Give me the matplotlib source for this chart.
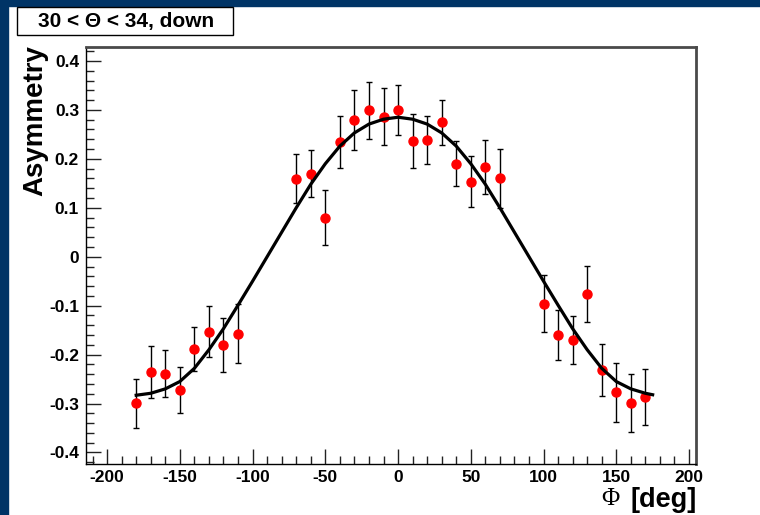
import matplotlib.pyplot as plt
from matplotlib.patches import Rectangle
from matplotlib.ticker import MultipleLocator, FuncFormatter

# === DATA ===

phi = [-180, -170, -160, -150, -140, -130, -120, -110,
       -70, -60, -50, -40, -30, -20, -10, 0, 10, 20, 30, 40, 50, 60, 70,
       100, 110, 120, 130, 140, 150, 160, 170]
asym = [-0.299, -0.236, -0.239, -0.272, -0.189, -0.153, -0.181, -0.157,
        0.159, 0.170, 0.080, 0.234, 0.279, 0.299, 0.286, 0.299, 0.236, 0.239,
        0.275, 0.190, 0.153, 0.184, 0.160,
        -0.096, -0.160, -0.170, -0.076, -0.231, -0.277, -0.299, -0.287]
asym_err = [0.050, 0.053, 0.048, 0.047, 0.045, 0.052, 0.055, 0.061,
            0.050, 0.048, 0.057, 0.053, 0.061, 0.059, 0.058, 0.051, 0.055, 0.049,
            0.046, 0.046, 0.052, 0.055, 0.060,
            0.058, 0.051, 0.049, 0.058, 0.053, 0.060, 0.059, 0.057]

# fit curve
fit_phi = [-180, -170, -160, -150, -140, -130, -120, -110, -100, -90, -80,
           -70, -60, -50, -40, -30, -20, -10, 0, 10, 20, 30, 40, 50, 60, 70,
           80, 90, 100, 110, 120, 130, 140, 150, 160, 170, 175]
fit_asym = [-0.283, -0.279, -0.270, -0.255, -0.228, -0.190, -0.147, -0.099, -0.050,
            0.000, 0.050, 0.100, 0.148, 0.190, 0.226, 0.253, 0.271, 0.281, 0.285,
            0.281, 0.271, 0.253, 0.226, 0.190, 0.148, 0.100, 0.050, 0.000,
            -0.050, -0.099, -0.147, -0.190, -0.228, -0.255, -0.270, -0.279, -0.282]

# === STYLE ===

plt.rcParams['font.family'] = ['Liberation Sans', 'DejaVu Sans']
plt.rcParams['axes.unicode_minus'] = False

fig = plt.figure(figsize=(7.6, 5.15), dpi=100)
W, H = 760, 515

# dark blue border strips
fig.patches.append(Rectangle((0, 0), 8 / W, 1, transform=fig.transFigure,
                             color='#003466', zorder=0))
fig.patches.append(Rectangle((0, 1 - 6 / H), 1, 6 / H, transform=fig.transFigure,
                             color='#003466', zorder=0))

ax = fig.add_axes([86 / W, (H - 464) / H, 610 / W, 417 / H])

ax.errorbar(phi, asym, yerr=asym_err, fmt='o', color='red', markersize=6.5,
            ecolor='black', elinewidth=1, capsize=2.5, capthick=1, zorder=3)
ax.plot(fit_phi, fit_asym, color='black', linewidth=2.3, zorder=4)

ax.set_xlim(-214.5, 204.8)
ax.set_ylim(-0.4235, 0.4285)

ax.xaxis.set_major_locator(MultipleLocator(50))
ax.xaxis.set_minor_locator(MultipleLocator(10))
ax.yaxis.set_major_locator(MultipleLocator(0.1))
ax.yaxis.set_minor_locator(MultipleLocator(0.02))
ax.yaxis.set_major_formatter(FuncFormatter(lambda v, p: f"{v:.1f}" if abs(v) > 1e-9 else '0'))
ax.xaxis.set_major_formatter(FuncFormatter(lambda v, p: f"{v:g}"))

ax.tick_params(which='both', direction='in', top=False, right=False, width=1, color='#222222')
ax.tick_params(which='major', length=11)
ax.tick_params(which='minor', length=5.5)
ax.tick_params(axis='x', which='major', pad=4)
ax.tick_params(axis='y', which='major', pad=5)
for lab in ax.get_xticklabels() + ax.get_yticklabels():
    lab.set_fontsize(12.5)
    lab.set_fontweight('bold')

for side in ['left', 'bottom']:
    ax.spines[side].set_linewidth(1)
for side in ['top', 'right']:
    ax.spines[side].set_linewidth(2)
    ax.spines[side].set_color('#4a4a4a')

# axis titles
fig.text(35 / W, 1 - 45 / H, 'Asymmetry', rotation=90, ha='center', va='top',
         fontsize=20, fontweight='bold')
fig.text(697 / W, 1 - 500 / H, '[deg]', ha='right', va='center',
         fontsize=19.5, fontweight='bold')
fig.text(619 / W, 1 - 499 / H, 'Φ', ha='right', va='center',
         fontsize=18, family=['Liberation Serif', 'DejaVu Serif'])

# title box
fig.patches.append(Rectangle((17 / W, 1 - 35 / H), 216 / W, 28 / H,
                             transform=fig.transFigure, facecolor='white',
                             edgecolor='black', linewidth=1))
fig.text(126 / W, 1 - 21 / H, '30 < Θ < 34, down', ha='center', va='center',
         fontsize=15, fontweight='bold')

fig.savefig('out.png', dpi=100)
